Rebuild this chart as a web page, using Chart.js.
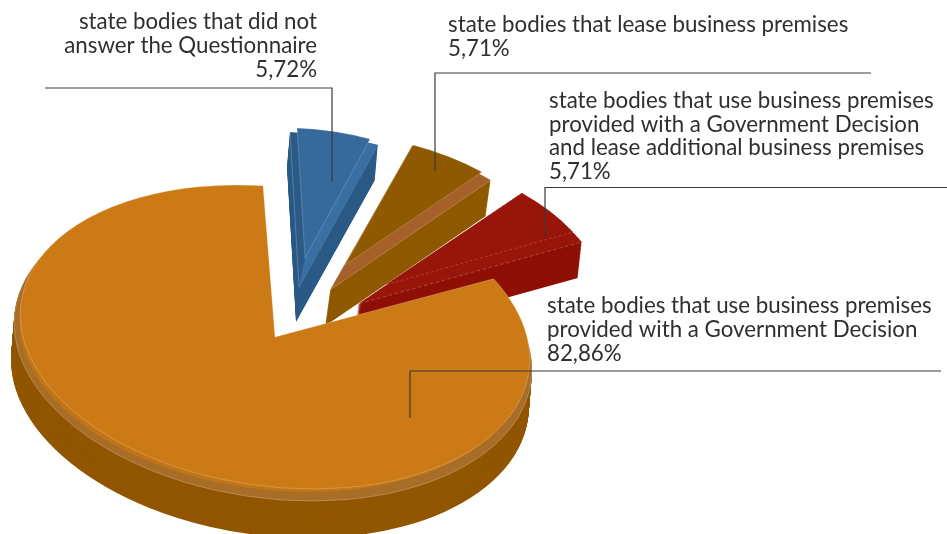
<!DOCTYPE html>
<html>
<head>
<meta charset="utf-8">
<title>Business premises of state bodies</title>
<script src="https://cdn.jsdelivr.net/npm/chart.js@4/dist/chart.umd.min.js"></script>
<style>
    html, body { margin: 0; padding: 0; background: #fff; overflow: hidden; }
    canvas { display: block; }
</style>
</head>
<body>
<canvas id="grafico" width="947" height="534"></canvas>
<script>
const categories = [
    'state bodies that use business premises provided with a Government Decision',
    'state bodies that did not answer the Questionnaire',
    'state bodies that lease business premises',
    'state bodies that use business premises provided with a Government Decision and lease additional business premises'
];
const shares = [82.86, 5.72, 5.71, 5.71];

// wrapped caption text, one list per slice
const captionLines = [
    ['state bodies that use business premises', 'provided with a Government Decision'],
    ['state bodies that did not', 'answer the Questionnaire'],
    ['state bodies that lease business premises'],
    ['state bodies that use business premises', 'provided with a Government Decision', 'and lease additional business premises']
];
const captionAnchors = [
    { x: 547, y: 313, align: 'left' },
    { x: 317, y: 29, align: 'right' },
    { x: 448, y: 32, align: 'left' },
    { x: 549, y: 108, align: 'left' }
];
const leaderLines = [
    [[941, 371], [410, 371], [410, 418]],
    [[45, 88], [332, 88], [332, 182]],
    [[871, 73], [435, 73], [435, 171]],
    [[947, 187.5], [545, 187.5], [545, 237]]
];

const topColors = ['#cb7a15', '#376a9c', '#8f5900', '#98150a'];
const rimColors = ['#a86e28', '#2b5a87', '#a6602a', '#98150a'];
const wallColors = ['#925600', '#2b5a87', '#8f5900', '#8f1006'];

// tilt of each slice: [xx, xy, yx, yy] per unit of radius, plus where its tip lands
const topViews = [
    { tip: [275, 337], m: [253, 31, 4, 152] },
    { tip: [305, 258], m: [205, 23.4, -2, 130.2] },
    { tip: [345, 265], m: [218, 26.2, -0.8, 131.9] },
    { tip: [385, 285], m: [217, 25.3, 0.8, 132] }
];
const rimViews = [
    { tip: [273, 346], m: [257, 32, 4, 155] },
    { tip: [299, 287], m: [247, 27.6, -2.8, 155.3] },
    { tip: [330, 290], m: [251.8, 26.5, 3.4, 160.3] },
    { tip: [358, 304], m: [257.6, 28.1, 4.8, 163.2] }
];
const wallShift = [
    [-3, 37],
    [-3, 35],
    [-5, 36],
    [-4, 36]
];
const paintOrder = [1, 2, 3, 0];

function pintarArco(ctx, arc, vista, dx, dy, estilo) {
    const r = arc.outerRadius;
    const [xx, xy, yx, yy] = vista.m;
    const guardadas = arc.options;
    arc.options = { ...guardadas, ...estilo };
    ctx.save();
    ctx.transform(xx / r, yx / r, xy / r, yy / r, vista.tip[0] + dx, vista.tip[1] + dy);
    ctx.translate(-arc.x, -arc.y);
    arc.draw(ctx);
    ctx.restore();
    arc.options = guardadas;
}

const pastel3d = {
    id: 'pastel3d',
    beforeDatasetsDraw(chart) {
        const ctx = chart.ctx;
        const arcos = chart.getDatasetMeta(0).data;

        paintOrder.forEach(i => {
            const arco = arcos[i];
            const [sx, sy] = wallShift[i];
            const dash = i === 3 ? [4, 3] : [];
            // the side wall is the rim outline pushed down step by step
            for (let t = 1; t >= 0; t -= 1 / 45) {
                pintarArco(ctx, arco, rimViews[i], sx * t, sy * t, { backgroundColor: wallColors[i], borderWidth: 0 });
            }
            pintarArco(ctx, arco, rimViews[i], 0, 0, {
                backgroundColor: rimColors[i],
                borderColor: 'rgba(255,255,255,0.35)',
                borderWidth: 0.8,
                borderDash: dash
            });
            if (i === 1) {
                // lighter strip down the right edge of the blue slice
                pintarArco(ctx, arco, { tip: [299, 287], m: [146.5, -19.1, -28.6, 143.3] }, 0, 0, { backgroundColor: '#3a6fa4', borderWidth: 0 });
            }
            if (i === 0) {
                pintarArco(ctx, arco, { tip: [273, 342], m: [252, 29, 4, 150] }, 0, 0, { backgroundColor: '#c27516', borderWidth: 0 });
            }
            pintarArco(ctx, arco, topViews[i], 0, 0, {
                backgroundColor: topColors[i],
                borderColor: 'rgba(255,255,255,0.35)',
                borderWidth: 0.8,
                borderDash: dash
            });
        });
        return false;
    },
    afterDraw(chart) {
        const ctx = chart.ctx;
        ctx.save();

        ctx.strokeStyle = '#3a3a3a';
        ctx.lineWidth = 1.2;
        paintOrder.forEach(i => {
            ctx.beginPath();
            leaderLines[i].forEach(([x, y], n) => n ? ctx.lineTo(x, y) : ctx.moveTo(x, y));
            ctx.stroke();
        });

        ctx.fillStyle = '#2f2f2f';
        ctx.font = '22.3px Lato';
        ctx.textBaseline = 'alphabetic';
        categories.forEach((_, i) => {
            const { x, y, align } = captionAnchors[i];
            const alto = i === 3 ? 23.7 : 24;
            const lineas = [...captionLines[i], shares[i].toFixed(2).replace('.', ',') + '%'];
            ctx.textAlign = align;
            lineas.forEach((linea, n) => ctx.fillText(linea, x, y + n * alto));
        });
        ctx.restore();
    }
};

new Chart(document.getElementById('grafico'), {
    type: 'pie',
    data: {
        labels: categories,
        datasets: [{ data: shares, backgroundColor: topColors, borderWidth: 0 }]
    },
    options: {
        responsive: false,
        animation: false,
        rotation: 66,
        plugins: { legend: { display: false }, tooltip: { enabled: false } }
    },
    plugins: [pastel3d]
});
</script>
</body>
</html>
